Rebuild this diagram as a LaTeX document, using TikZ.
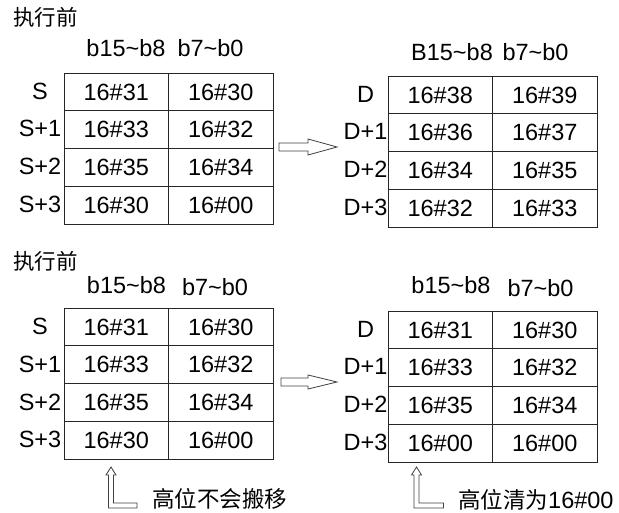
\documentclass[tikz,border=0pt]{standalone}
\usepackage{fontspec}
\setmainfont{Liberation Sans}
\newfontfamily\cjk{Noto Sans CJK SC}
\usepackage{tikz}
\tikzset{
  cell/.style={draw=black!85, line width=1pt, minimum width=104.5pt, minimum height=37.75pt,
      inner sep=0pt, font=\fontsize{23.5}{28}\selectfont},
  reg/.style={inner sep=0pt, font=\fontsize{23.5}{28}\selectfont},
  bits/.style={inner sep=0pt, font=\fontsize{23.5}{28}\selectfont},
  title/.style={inner sep=0pt, anchor=west, font=\cjk\fontsize{21.5}{26}\selectfont},
  note/.style={inner sep=0pt, anchor=west, font=\fontsize{23.5}{28}\selectfont},
  hollow/.style={draw=black!75, line width=0.8pt, line join=miter},
}

\begin{document}
\begin{tikzpicture}[x=1pt, y=-1pt]
  \useasboundingbox (0,0) rectangle (619,513);
  \node[title] (ta) at (13,17) {执行前};
  \node[bits] (sahi) at (126,48) {b15\textasciitilde b8};
  \node[bits] (salo) at (210.5,48) {b7\textasciitilde b0};
  \node[cell] (sa0h) at (116.25,92) {16\#31};
  \node[cell] (sa0l) at (220.75,92) {16\#30};
  \node[cell] (sa1h) at (116.25,129.75) {16\#33};
  \node[cell] (sa1l) at (220.75,129.75) {16\#32};
  \node[cell] (sa2h) at (116.25,167.5) {16\#35};
  \node[cell] (sa2l) at (220.75,167.5) {16\#34};
  \node[cell] (sa3h) at (116.25,205.25) {16\#30};
  \node[cell] (sa3l) at (220.75,205.25) {16\#00};
  \node[reg] (rsa0) at (40,91) {S};
  \node[reg] (rsa1) at (40,128.5) {S+1};
  \node[reg] (rsa2) at (40,166.5) {S+2};
  \node[reg] (rsa3) at (40,204) {S+3};
  \coordinate (ma) at (279,147);
  \draw[hollow] (ma) ++(0,-4) -- ++(29,0) -- ++(0,-4) -- ++(29,8) -- ++(-29,8) -- ++(0,-4)
    -- ++(-29,0) -- cycle;
  \node[bits] (dahi) at (452,52) {B15\textasciitilde b8};
  \node[bits] (dalo) at (535.5,52) {b7\textasciitilde b0};
  \node[cell] (da0h) at (440.25,95) {16\#38};
  \node[cell] (da0l) at (544.75,95) {16\#39};
  \node[cell] (da1h) at (440.25,132.75) {16\#36};
  \node[cell] (da1l) at (544.75,132.75) {16\#37};
  \node[cell] (da2h) at (440.25,170.5) {16\#34};
  \node[cell] (da2l) at (544.75,170.5) {16\#35};
  \node[cell] (da3h) at (440.25,208.25) {16\#32};
  \node[cell] (da3l) at (544.75,208.25) {16\#33};
  \node[reg] (rda0) at (365.5,94) {D};
  \node[reg] (rda1) at (365.5,131.5) {D+1};
  \node[reg] (rda2) at (365.5,169.5) {D+2};
  \node[reg] (rda3) at (365.5,207) {D+3};

  \node[title] (tb) at (13,261) {执行前};
  \node[bits] (sbhi) at (126.5,285) {b15\textasciitilde b8};
  \node[bits] (sblo) at (215,287) {b7\textasciitilde b0};
  \node[cell] (sb0h) at (116.25,327) {16\#31};
  \node[cell] (sb0l) at (220.75,327) {16\#30};
  \node[cell] (sb1h) at (116.25,364.75) {16\#33};
  \node[cell] (sb1l) at (220.75,364.75) {16\#32};
  \node[cell] (sb2h) at (116.25,402.5) {16\#35};
  \node[cell] (sb2l) at (220.75,402.5) {16\#34};
  \node[cell] (sb3h) at (116.25,440.25) {16\#30};
  \node[cell] (sb3l) at (220.75,440.25) {16\#00};
  \node[reg] (rsb0) at (40,326) {S};
  \node[reg] (rsb1) at (40,364) {S+1};
  \node[reg] (rsb2) at (40,402) {S+2};
  \node[reg] (rsb3) at (40,439.5) {S+3};
  \coordinate (mb) at (281,382);
  \draw[hollow] (mb) ++(0,-4) -- ++(27,0) -- ++(0,-3) -- ++(29,7) -- ++(-29,7) -- ++(0,-3)
    -- ++(-27,0) -- cycle;
  \node[bits] (dbhi) at (451,285) {b15\textasciitilde b8};
  \node[bits] (dblo) at (540.5,288) {b7\textasciitilde b0};
  \node[cell] (db0h) at (440.25,330) {16\#31};
  \node[cell] (db0l) at (544.75,330) {16\#30};
  \node[cell] (db1h) at (440.25,367.75) {16\#33};
  \node[cell] (db1l) at (544.75,367.75) {16\#32};
  \node[cell] (db2h) at (440.25,405.5) {16\#35};
  \node[cell] (db2l) at (544.75,405.5) {16\#34};
  \node[cell] (db3h) at (440.25,443.25) {16\#00};
  \node[cell] (db3l) at (544.75,443.25) {16\#00};
  \node[reg] (rdb0) at (365.5,329) {D};
  \node[reg] (rdb1) at (365.5,366.5) {D+1};
  \node[reg] (rdb2) at (365.5,404.5) {D+2};
  \node[reg] (rdb3) at (365.5,442) {D+3};

  \coordinate (ua) at (111,467);
  \draw[hollow] (ua) -- ++(5,8) -- ++(-2.5,0) -- ++(0,28) -- ++(23.5,0) -- ++(0,5) -- ++(-28.5,0)
    -- ++(0,-33) -- ++(-2.5,0) -- cycle;
  \node[note] (na) at (152,499) {\cjk\fontsize{22.5}{27}\selectfont 高位不会搬移};
  \coordinate (ub) at (416.5,467);
  \draw[hollow] (ub) -- ++(5,8) -- ++(-2.5,0) -- ++(0,28) -- ++(24.5,0) -- ++(0,5) -- ++(-29.5,0)
    -- ++(0,-33) -- ++(-2.5,0) -- cycle;
  \node[note] (nb) at (458,500) {{\cjk\fontsize{22.5}{27}\selectfont 高位清为}16\#00};
\end{tikzpicture}
\end{document}
